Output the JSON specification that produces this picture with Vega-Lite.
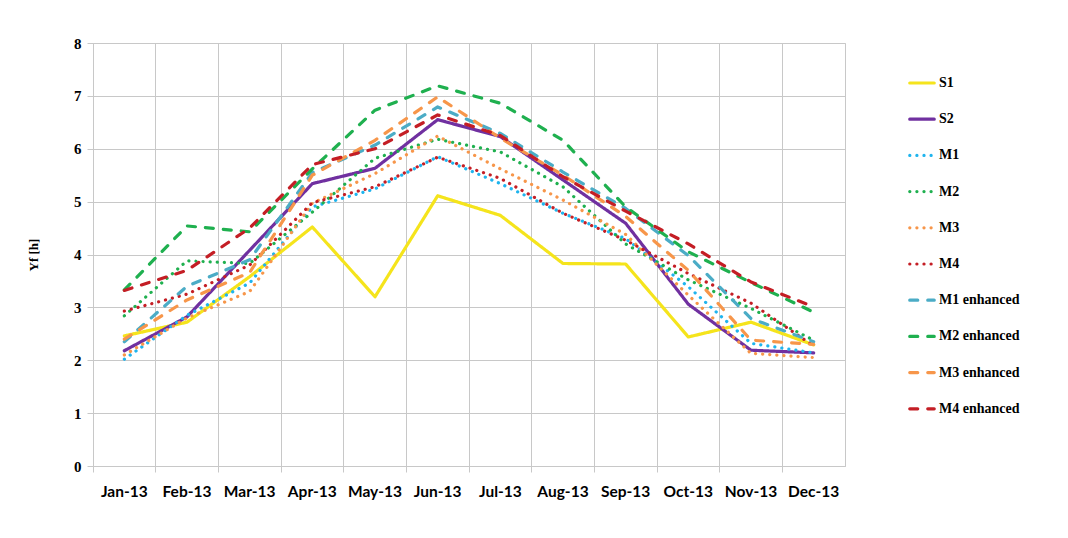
{
  "$schema": "https://vega.github.io/schema/vega-lite/v6.json",
  "width": 752,
  "height": 423,
  "autosize": "none",
  "padding": {"left": 93, "top": 43, "right": 223, "bottom": 72},
  "background": "white",
  "config": {
    "view": {"stroke": "#c8c8c8", "strokeWidth": 1},
    "axis": {"gridColor": "#c8c8c8", "domainColor": "#c8c8c8", "tickColor": "#c8c8c8", "labelColor": "#000000", "titleColor": "#000000"}
  },
  "data": {
    "values": [
      {"month": "Jan-13", "series": "S1", "value": 2.46},
      {"month": "Feb-13", "series": "S1", "value": 2.72},
      {"month": "Mar-13", "series": "S1", "value": 3.58},
      {"month": "Apr-13", "series": "S1", "value": 4.52},
      {"month": "May-13", "series": "S1", "value": 3.2},
      {"month": "Jun-13", "series": "S1", "value": 5.11},
      {"month": "Jul-13", "series": "S1", "value": 4.74},
      {"month": "Aug-13", "series": "S1", "value": 3.83},
      {"month": "Sep-13", "series": "S1", "value": 3.82},
      {"month": "Oct-13", "series": "S1", "value": 2.44},
      {"month": "Nov-13", "series": "S1", "value": 2.72},
      {"month": "Dec-13", "series": "S1", "value": 2.29},
      {"month": "Jan-13", "series": "S2", "value": 2.18},
      {"month": "Feb-13", "series": "S2", "value": 2.82},
      {"month": "Mar-13", "series": "S2", "value": 4.08},
      {"month": "Apr-13", "series": "S2", "value": 5.34},
      {"month": "May-13", "series": "S2", "value": 5.63},
      {"month": "Jun-13", "series": "S2", "value": 6.55},
      {"month": "Jul-13", "series": "S2", "value": 6.23},
      {"month": "Aug-13", "series": "S2", "value": 5.41},
      {"month": "Sep-13", "series": "S2", "value": 4.59},
      {"month": "Oct-13", "series": "S2", "value": 3.06},
      {"month": "Nov-13", "series": "S2", "value": 2.19},
      {"month": "Dec-13", "series": "S2", "value": 2.14},
      {"month": "Jan-13", "series": "M1", "value": 2.02},
      {"month": "Feb-13", "series": "M1", "value": 2.85},
      {"month": "Mar-13", "series": "M1", "value": 3.46},
      {"month": "Apr-13", "series": "M1", "value": 4.9},
      {"month": "May-13", "series": "M1", "value": 5.24},
      {"month": "Jun-13", "series": "M1", "value": 5.85},
      {"month": "Jul-13", "series": "M1", "value": 5.34},
      {"month": "Aug-13", "series": "M1", "value": 4.78},
      {"month": "Sep-13", "series": "M1", "value": 4.3},
      {"month": "Oct-13", "series": "M1", "value": 3.39},
      {"month": "Nov-13", "series": "M1", "value": 2.32},
      {"month": "Dec-13", "series": "M1", "value": 2.14},
      {"month": "Jan-13", "series": "M2", "value": 2.84},
      {"month": "Feb-13", "series": "M2", "value": 3.88},
      {"month": "Mar-13", "series": "M2", "value": 3.83},
      {"month": "Apr-13", "series": "M2", "value": 4.8},
      {"month": "May-13", "series": "M2", "value": 5.82},
      {"month": "Jun-13", "series": "M2", "value": 6.18},
      {"month": "Jul-13", "series": "M2", "value": 5.94},
      {"month": "Aug-13", "series": "M2", "value": 5.28},
      {"month": "Sep-13", "series": "M2", "value": 4.2},
      {"month": "Oct-13", "series": "M2", "value": 3.52},
      {"month": "Nov-13", "series": "M2", "value": 2.98},
      {"month": "Dec-13", "series": "M2", "value": 2.38},
      {"month": "Jan-13", "series": "M3", "value": 2.1},
      {"month": "Feb-13", "series": "M3", "value": 2.8},
      {"month": "Mar-13", "series": "M3", "value": 3.3},
      {"month": "Apr-13", "series": "M3", "value": 4.97},
      {"month": "May-13", "series": "M3", "value": 5.53},
      {"month": "Jun-13", "series": "M3", "value": 6.24},
      {"month": "Jul-13", "series": "M3", "value": 5.62},
      {"month": "Aug-13", "series": "M3", "value": 5.03},
      {"month": "Sep-13", "series": "M3", "value": 4.38},
      {"month": "Oct-13", "series": "M3", "value": 3.23},
      {"month": "Nov-13", "series": "M3", "value": 2.13},
      {"month": "Dec-13", "series": "M3", "value": 2.05},
      {"month": "Jan-13", "series": "M4", "value": 2.93},
      {"month": "Feb-13", "series": "M4", "value": 3.25},
      {"month": "Mar-13", "series": "M4", "value": 3.8},
      {"month": "Apr-13", "series": "M4", "value": 4.98},
      {"month": "May-13", "series": "M4", "value": 5.28},
      {"month": "Jun-13", "series": "M4", "value": 5.84},
      {"month": "Jul-13", "series": "M4", "value": 5.44},
      {"month": "Aug-13", "series": "M4", "value": 4.78},
      {"month": "Sep-13", "series": "M4", "value": 4.27},
      {"month": "Oct-13", "series": "M4", "value": 3.64},
      {"month": "Nov-13", "series": "M4", "value": 3.08},
      {"month": "Dec-13", "series": "M4", "value": 2.27},
      {"month": "Jan-13", "series": "M1 enhanced", "value": 2.35},
      {"month": "Feb-13", "series": "M1 enhanced", "value": 3.4},
      {"month": "Mar-13", "series": "M1 enhanced", "value": 3.9},
      {"month": "Apr-13", "series": "M1 enhanced", "value": 5.55},
      {"month": "May-13", "series": "M1 enhanced", "value": 6.07},
      {"month": "Jun-13", "series": "M1 enhanced", "value": 6.79},
      {"month": "Jul-13", "series": "M1 enhanced", "value": 6.29},
      {"month": "Aug-13", "series": "M1 enhanced", "value": 5.56},
      {"month": "Sep-13", "series": "M1 enhanced", "value": 4.87},
      {"month": "Oct-13", "series": "M1 enhanced", "value": 3.98},
      {"month": "Nov-13", "series": "M1 enhanced", "value": 2.79},
      {"month": "Dec-13", "series": "M1 enhanced", "value": 2.35},
      {"month": "Jan-13", "series": "M2 enhanced", "value": 3.33},
      {"month": "Feb-13", "series": "M2 enhanced", "value": 4.54},
      {"month": "Mar-13", "series": "M2 enhanced", "value": 4.43},
      {"month": "Apr-13", "series": "M2 enhanced", "value": 5.62},
      {"month": "May-13", "series": "M2 enhanced", "value": 6.73},
      {"month": "Jun-13", "series": "M2 enhanced", "value": 7.19},
      {"month": "Jul-13", "series": "M2 enhanced", "value": 6.86},
      {"month": "Aug-13", "series": "M2 enhanced", "value": 6.16},
      {"month": "Sep-13", "series": "M2 enhanced", "value": 4.9},
      {"month": "Oct-13", "series": "M2 enhanced", "value": 4.05},
      {"month": "Nov-13", "series": "M2 enhanced", "value": 3.47},
      {"month": "Dec-13", "series": "M2 enhanced", "value": 2.91},
      {"month": "Jan-13", "series": "M3 enhanced", "value": 2.4},
      {"month": "Feb-13", "series": "M3 enhanced", "value": 3.14},
      {"month": "Mar-13", "series": "M3 enhanced", "value": 3.66},
      {"month": "Apr-13", "series": "M3 enhanced", "value": 5.5},
      {"month": "May-13", "series": "M3 enhanced", "value": 6.16},
      {"month": "Jun-13", "series": "M3 enhanced", "value": 6.98},
      {"month": "Jul-13", "series": "M3 enhanced", "value": 6.2},
      {"month": "Aug-13", "series": "M3 enhanced", "value": 5.5},
      {"month": "Sep-13", "series": "M3 enhanced", "value": 4.72},
      {"month": "Oct-13", "series": "M3 enhanced", "value": 3.7},
      {"month": "Nov-13", "series": "M3 enhanced", "value": 2.38},
      {"month": "Dec-13", "series": "M3 enhanced", "value": 2.3},
      {"month": "Jan-13", "series": "M4 enhanced", "value": 3.32},
      {"month": "Feb-13", "series": "M4 enhanced", "value": 3.7},
      {"month": "Mar-13", "series": "M4 enhanced", "value": 4.5},
      {"month": "Apr-13", "series": "M4 enhanced", "value": 5.7},
      {"month": "May-13", "series": "M4 enhanced", "value": 6.0},
      {"month": "Jun-13", "series": "M4 enhanced", "value": 6.64},
      {"month": "Jul-13", "series": "M4 enhanced", "value": 6.25},
      {"month": "Aug-13", "series": "M4 enhanced", "value": 5.47},
      {"month": "Sep-13", "series": "M4 enhanced", "value": 4.82},
      {"month": "Oct-13", "series": "M4 enhanced", "value": 4.2},
      {"month": "Nov-13", "series": "M4 enhanced", "value": 3.48},
      {"month": "Dec-13", "series": "M4 enhanced", "value": 3.01}
    ]
  },
  "mark": {"type": "line", "strokeCap": "round", "strokeJoin": "round"},
  "encoding": {
    "x": {
      "field": "month",
      "type": "ordinal",
      "sort": ["Jan-13", "Feb-13", "Mar-13", "Apr-13", "May-13", "Jun-13", "Jul-13", "Aug-13", "Sep-13", "Oct-13", "Nov-13", "Dec-13"],
      "scale": {"type": "band", "paddingInner": 0, "paddingOuter": 0},
      "axis": {
        "title": null,
        "bandPosition": 0,
        "grid": true,
        "ticks": true,
        "tickSize": 6,
        "labelAngle": 0,
        "labelDx": 31.3,
        "labelPadding": 12,
        "labelFont": "Lato",
        "labelFontWeight": "bold",
        "labelFontSize": 15.5,
        "labelBaseline": "top"
      }
    },
    "y": {
      "field": "value",
      "type": "quantitative",
      "scale": {"domain": [0, 8], "nice": false},
      "axis": {
        "title": "Yf [h]",
        "values": [0, 1, 2, 3, 4, 5, 6, 7, 8],
        "tickSize": 6,
        "labelPadding": 6,
        "labelFont": "Liberation Serif",
        "labelFontWeight": "bold",
        "labelFontSize": 15,
        "titleFont": "Liberation Serif",
        "titleFontWeight": "bold",
        "titleFontSize": 13,
        "titlePadding": 33
      }
    },
    "color": {
      "field": "series",
      "type": "nominal",
      "scale": {
        "domain": ["S1", "S2", "M1", "M2", "M3", "M4", "M1 enhanced", "M2 enhanced", "M3 enhanced", "M4 enhanced"],
        "range": ["#f5e41c", "#7030a0", "#1fb4ee", "#1fb04f", "#f7964a", "#c41e25", "#4bacc6", "#1fb04f", "#f7964a", "#c41e25"]
      },
      "legend": {
        "title": null,
        "orient": "none",
        "legendX": 815,
        "legendY": 26,
        "symbolType": "stroke",
        "symbolSize": 600,
        "symbolStrokeWidth": 3.2,
        "rowPadding": 15.2,
        "labelOffset": 3,
        "labelFont": "Liberation Serif",
        "labelFontWeight": "bold",
        "labelFontSize": 14,
        "labelColor": "#000000",
        "encode": {"symbols": {"update": {"strokeCap": {"value": "round"}}}}
      }
    },
    "strokeDash": {
      "field": "series",
      "type": "nominal",
      "scale": {
        "domain": ["S1", "S2", "M1", "M2", "M3", "M4", "M1 enhanced", "M2 enhanced", "M3 enhanced", "M4 enhanced"],
        "range": [[1, 0], [1, 0], [0.1, 7], [0.1, 7], [0.1, 7], [0.1, 7], [8, 10], [8, 10], [8, 10], [8, 10]]
      },
      "legend": null
    },
    "strokeWidth": {
      "field": "series",
      "type": "nominal",
      "scale": {
        "domain": ["S1", "S2", "M1", "M2", "M3", "M4", "M1 enhanced", "M2 enhanced", "M3 enhanced", "M4 enhanced"],
        "range": [3.2, 3.2, 4.2, 4.2, 4.2, 4.2, 3.2, 3.2, 3.2, 3.2]
      },
      "legend": null
    }
  }
}
